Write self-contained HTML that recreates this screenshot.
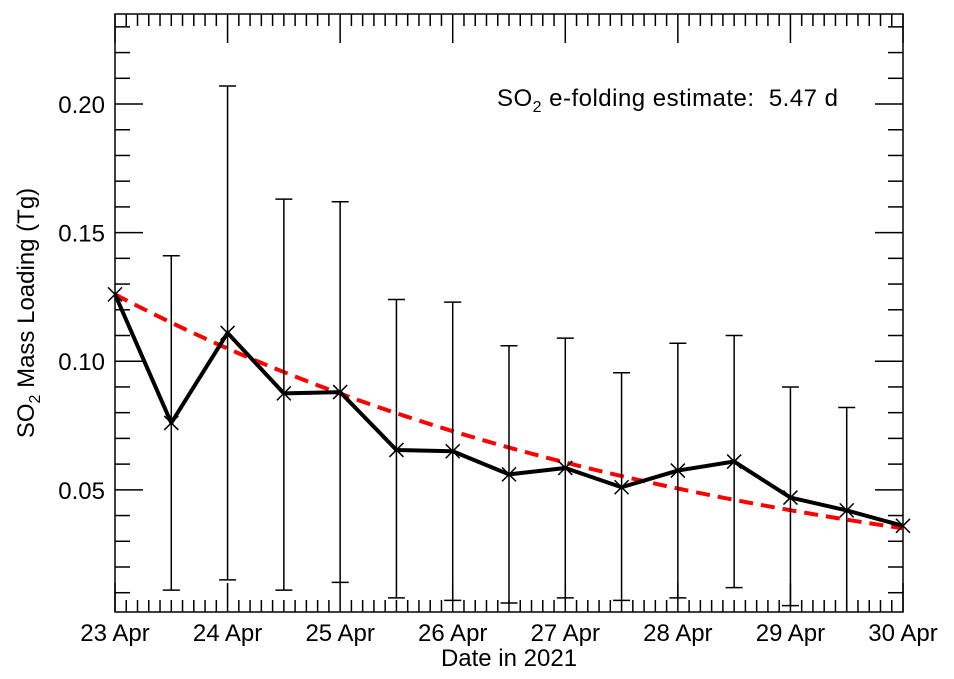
<!DOCTYPE html>
<html><head><meta charset="utf-8"><style>
body{margin:0;background:#fff;}
svg{display:block;font-family:"Liberation Sans",sans-serif;}
text{white-space:pre;}
</style></head><body>
<svg id="chart" width="954" height="679" viewBox="0 0 954 679" xmlns="http://www.w3.org/2000/svg">
<g id="axes"></g>
<g id="fit"></g>
<g id="errs"></g>
<g id="series"></g>
<text x="497" y="106" font-size="24" textLength="341">SO<tspan font-size="16" dy="6">2</tspan><tspan dy="-6"> e-folding estimate:  5.47 d</tspan></text>
<text x="509" y="666" font-size="24" text-anchor="middle">Date in 2021</text>
<text transform="translate(34,313) rotate(-90)" font-size="24" text-anchor="middle">SO<tspan font-size="16" dy="6">2</tspan><tspan dy="-6"> Mass Loading (Tg)</tspan></text>
</svg>
<script>
const days = [0,0.5,1,1.5,2,2.5,3,3.5,4,4.5,5,5.5,6,6.5,7];
const values = [0.126,0.076,0.111,0.0875,0.088,0.0655,0.065,0.056,0.0585,0.051,0.0575,0.061,0.047,0.042,0.036];
const errLow = [null,0.011,0.015,0.011,0.014,0.008,0.007,0.006,0.008,0.007,0.008,0.012,0.005,0.0,null];
const errHigh = [null,0.141,0.207,0.163,0.162,0.124,0.123,0.106,0.109,0.0955,0.107,0.110,0.090,0.082,null];
const xTickLabels = ["23 Apr","24 Apr","25 Apr","26 Apr","27 Apr","28 Apr","29 Apr","30 Apr"];
const yTickValues = [0.05,0.10,0.15,0.20];
const yTickLabels = ["0.05","0.10","0.15","0.20"];
const fitA = 0.126, fitTau = 5.47;

const L=115,R=903,T=14,B=612;
const X=d=>L+d*(R-L)/7;
const yMin=0.0025,yMax=0.235;
const Y=v=>B-(v-yMin)*(B-T)/(yMax-yMin);
const NS="http://www.w3.org/2000/svg";
function mk(tag,attrs,parent){const e=document.createElementNS(NS,tag);for(const k in attrs)e.setAttribute(k,attrs[k]);parent.appendChild(e);return e;}
const ax=document.getElementById('axes');
const frame=mk('rect',{x:L,y:T,width:R-L,height:B-T,fill:'none',stroke:'#000','stroke-width':1.5},ax);


for(let i=0;i<=70;i++){
  const x=X(i/10);const major=i%10===0;const len=major?29:12;
  mk('line',{x1:x,x2:x,y1:B,y2:B-len,stroke:'#000','stroke-width':1.5},ax);
  mk('line',{x1:x,x2:x,y1:T,y2:T+len,stroke:'#000','stroke-width':1.5},ax);
}
xTickLabels.forEach((t,i)=>{
  const tx=mk('text',{x:X(i),y:641,'font-size':24,'text-anchor':'middle'},ax);tx.textContent=t;
  
  
});
for(let i=1;i<=23;i++){
  const v=i/100;const y=Y(v);const major=i%5===0;const len=major?28:15;
  mk('line',{x1:L,x2:L+len,y1:y,y2:y,stroke:'#000','stroke-width':1.5},ax);
  mk('line',{x1:R,x2:R-len,y1:y,y2:y,stroke:'#000','stroke-width':1.5},ax);
}
yTickValues.forEach((v,i)=>{
  const tx=mk('text',{x:105,y:Y(v)+9,'font-size':24,'text-anchor':'end'},ax);tx.textContent=yTickLabels[i];
  
  
});
let fp=[];for(let i=0;i<=70;i++){const d=i/10;fp.push(X(d)+','+Y(fitA*Math.exp(-d/fitTau)));}
mk('polyline',{points:fp.join(' '),fill:'none',stroke:'#f00','stroke-width':4,'stroke-dasharray':'14 8'},document.getElementById('fit'));
const eg=document.getElementById('errs');
days.forEach((d,i)=>{
  if(errHigh[i]==null)return;
  const x=X(d);const y1=Math.min(Y(errLow[i]),B);const y2=Y(errHigh[i]);
  const g=mk('g',{},eg);
  
  
  mk('line',{x1:x,x2:x,y1:y1,y2:y2,stroke:'#000','stroke-width':1.5},g);
  mk('line',{x1:x-8.5,x2:x+8.5,y1:y2,y2:y2,stroke:'#000','stroke-width':1.5},g);
  if(Y(errLow[i])<B)mk('line',{x1:x-8.5,x2:x+8.5,y1:y1,y2:y1,stroke:'#000','stroke-width':1.5},g);
});
const sg=document.getElementById('series');
mk('polyline',{points:days.map((d,i)=>X(d)+','+Y(values[i])).join(' '),fill:'none',stroke:'#000','stroke-width':4,'stroke-linejoin':'round'},sg);
days.forEach((d,i)=>{
  const x=X(d),y=Y(values[i]);
  const p=mk('path',{d:`M${x-7} ${y-7}L${x+7} ${y+7}M${x-7} ${y+7}L${x+7} ${y-7}`,stroke:'#000','stroke-width':1.5},sg);
  
  
});
</script>
</body></html>
